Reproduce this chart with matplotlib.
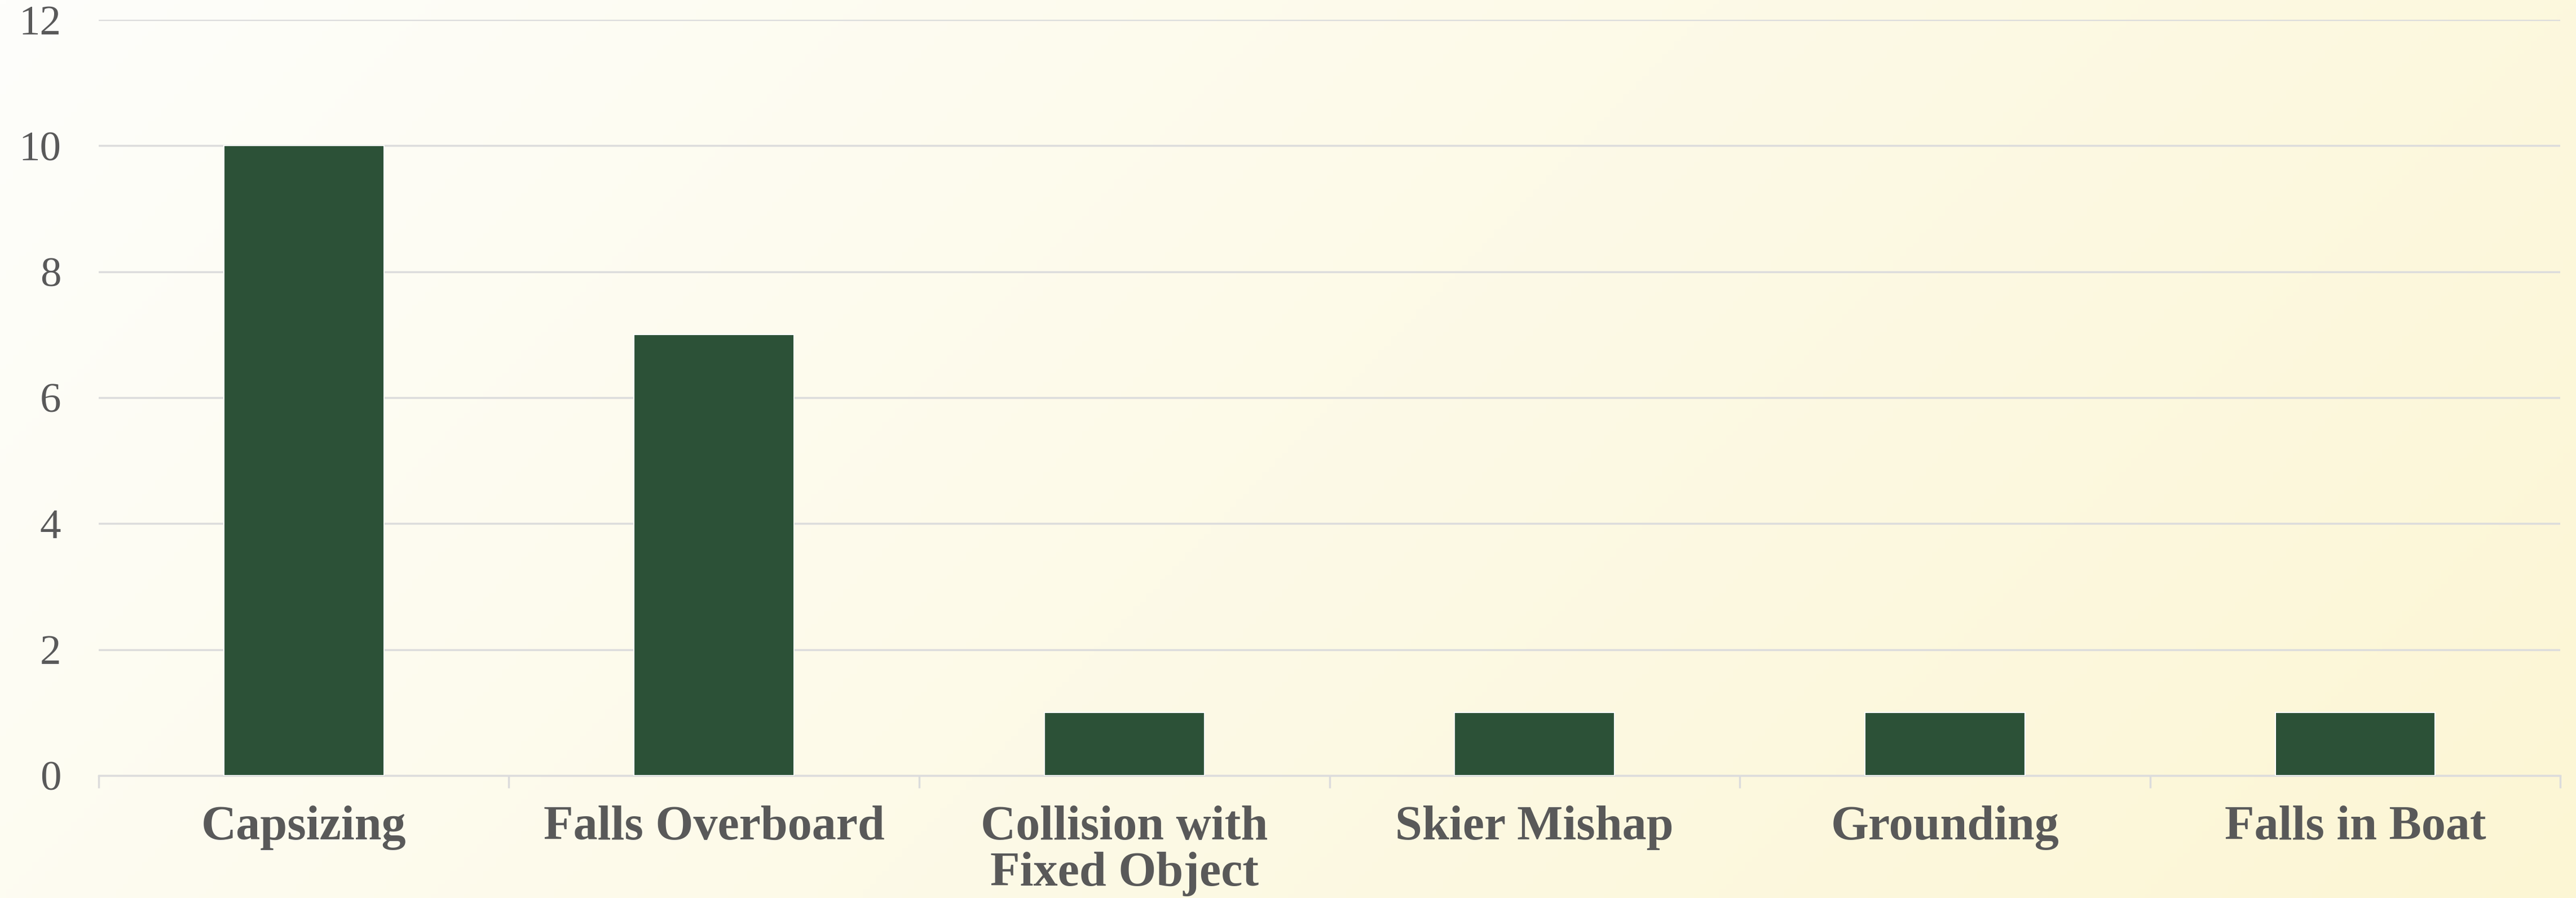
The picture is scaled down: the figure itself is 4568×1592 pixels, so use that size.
import numpy as np
import matplotlib
matplotlib.use("Agg")
import matplotlib.pyplot as plt

# данные
categories = ["Capsizing", "Falls Overboard", "Collision with\nFixed Object",
              "Skier Mishap", "Grounding", "Falls in Boat"]
counts = [10, 7, 1, 1, 1, 1]
y_ticks = [0, 2, 4, 6, 8, 10, 12]

BAR_COLOR = "#2c5137"
TEXT_COLOR = "#595959"
GRID_COLOR = "#dcdcdc"

plt.rcParams["font.family"] = ["Liberation Serif", "DejaVu Serif"]

fig = plt.figure(figsize=(45.68, 15.92), dpi=100)

# фон с градиентом
bg = fig.add_axes([0, 0, 1, 1], zorder=-10)
gx, gy = np.meshgrid(np.linspace(0, 1, 400), np.linspace(0, 1, 200))
t = np.clip(0.75 * gx + 0.25 * gy, 0, 1)
c0 = np.array([254, 254, 251]) / 255
c1 = np.array([252, 246, 212]) / 255
img = c0[None, None, :] * (1 - t[..., None]) + c1[None, None, :] * t[..., None]
bg.imshow(img, aspect="auto", extent=[0, 1, 0, 1], origin="upper")
bg.axis("off")

ax = fig.add_axes([0.0383, 0.1363, 0.9556, 0.8417])
ax.patch.set_alpha(0)

x = np.arange(len(categories))
ax.bar(x, counts, width=0.39, color=BAR_COLOR, edgecolor="white", linewidth=1.5, zorder=3)

ax.set_xlim(-0.5, len(categories) - 0.5)
ax.set_ylim(0, 12)
ax.set_yticks(y_ticks)
ax.set_yticklabels([str(v) for v in y_ticks])
ax.yaxis.grid(True, color=GRID_COLOR, linewidth=2.5, zorder=0)
ax.tick_params(axis="y", length=0, pad=48, labelsize=54, labelcolor=TEXT_COLOR)

# подписи категорий
ax.set_xticks(x)
ax.set_xticklabels(categories, fontweight="bold", linespacing=1.05)
ax.tick_params(axis="x", which="major", length=0, pad=38, labelsize=62, labelcolor=TEXT_COLOR)
ax.set_xticks(np.arange(-0.5, len(categories), 1.0), minor=True)
ax.tick_params(axis="x", which="minor", length=16, width=2.5, color=GRID_COLOR)

for side in ["top", "right", "left"]:
    ax.spines[side].set_visible(False)
ax.spines["bottom"].set_color(GRID_COLOR)
ax.spines["bottom"].set_linewidth(2.5)

fig.savefig("out.png", dpi=100)
plt.close(fig)
